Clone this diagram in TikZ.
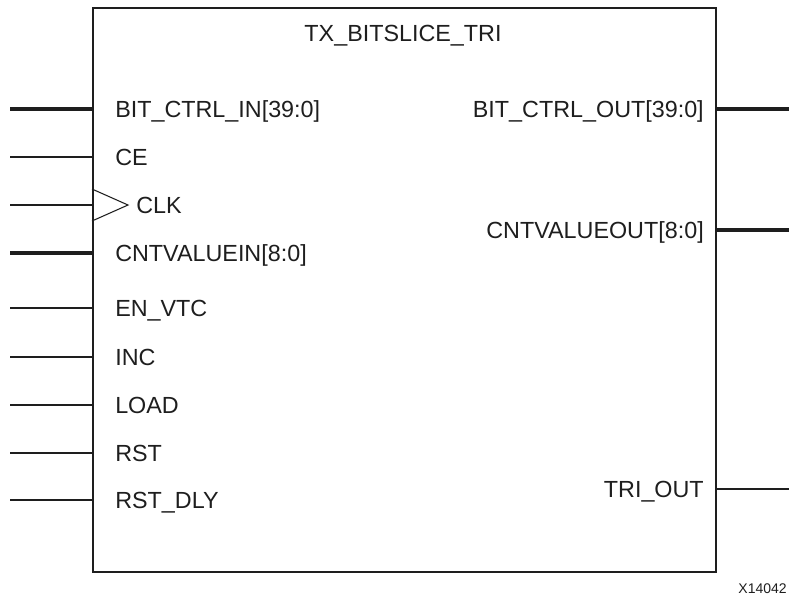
\documentclass[tikz,border=0pt]{standalone}
\usepackage{fontspec}
\setmainfont{Liberation Sans}
\usepackage{xcolor}
\usetikzlibrary{positioning}
\definecolor{ink}{HTML}{1E1E1E}

\begin{document}
\begin{tikzpicture}[
      x=0.75pt,y=-0.75pt,
      every node/.style={font=\fontsize{17.5}{21}\selectfont,text=ink,
                         inner sep=0pt,text height=12.6pt,text depth=0pt},
      blockbox/.style={draw=ink,line width=1.5pt,minimum width=467.25pt,
                       minimum height=423pt},
      bus/.style={draw=ink,line width=3.6pt},
      wire/.style={draw=ink,line width=0.8pt},
      pinl/.style={anchor=west},
      pinr/.style={anchor=east},
  ]
    \useasboundingbox (0,0) rectangle (789,597);

    \node[blockbox] (blk) at (404.5,290) {};
    \node (title) at (403,33) {TX\_BITSLICE\_TRI};

    \node[pinl] (bitin)  at (115,109) {BIT\_CTRL\_IN[39:0]};
    \node[pinl] (ce)     at (115,157) {CE};
    \node[pinl] (clk)    at (136,205) {CLK};
    \node[pinl] (cntin)  at (115,253) {CNTVALUEIN[8:0]};
    \node[pinl] (envtc)  at (115,308) {EN\_VTC};
    \node[pinl] (inc)    at (115,357) {INC};
    \node[pinl] (load)   at (115,405) {LOAD};
    \node[pinl] (rst)    at (115,453) {RST};
    \node[pinl] (rstdly) at (115,500) {RST\_DLY};

    \node[pinr] (bitout) at (704,109) {BIT\_CTRL\_OUT[39:0]};
    \node[pinr] (cntout) at (704,230) {CNTVALUEOUT[8:0]};
    \node[pinr] (triout) at (704,489) {TRI\_OUT};

    \coordinate (bitin-e)  at (10,109);
    \coordinate (ce-e)     at (10,157);
    \coordinate (clk-e)    at (10,205);
    \coordinate (cntin-e)  at (10,253);
    \coordinate (envtc-e)  at (10,308);
    \coordinate (inc-e)    at (10,357);
    \coordinate (load-e)   at (10,405);
    \coordinate (rst-e)    at (10,453);
    \coordinate (rstdly-e) at (10,500);
    \coordinate (bitout-e) at (789,109);
    \coordinate (cntout-e) at (789,230);
    \coordinate (triout-e) at (789,489);

    \draw[bus]  (bitin-e)  -- (blk.west |- bitin-e);
    \draw[wire] (ce-e)     -- (blk.west |- ce-e);
    \draw[wire] (clk-e)    -- (blk.west |- clk-e);
    \draw[bus]  (cntin-e)  -- (blk.west |- cntin-e);
    \draw[wire] (envtc-e)  -- (blk.west |- envtc-e);
    \draw[wire] (inc-e)    -- (blk.west |- inc-e);
    \draw[wire] (load-e)   -- (blk.west |- load-e);
    \draw[wire] (rst-e)    -- (blk.west |- rst-e);
    \draw[wire] (rstdly-e) -- (blk.west |- rstdly-e);
    \draw[bus]  (blk.east |- bitout-e) -- (bitout-e);
    \draw[bus]  (blk.east |- cntout-e) -- (cntout-e);
    \draw[wire] (blk.east |- triout-e) -- (triout-e);

    \draw[wire] (blk.west |- 0,189) -- (128,205) -- (blk.west |- 0,221);

    \node[anchor=east,font=\fontsize{10.5}{12}\selectfont,text height=7.5pt]
      (figid) at (787,588) {X14042};
\end{tikzpicture}
\end{document}
